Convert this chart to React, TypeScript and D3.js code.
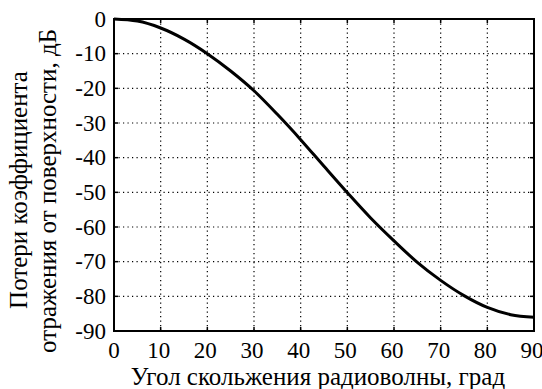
import * as d3 from "d3";

// grazing angle, degrees
const angles = [0, 5, 10, 15, 20, 25, 30, 35, 40, 45, 50, 55, 60, 65, 70, 75, 80, 85, 90];
// reflection coefficient loss, dB
const lossDb = [0, -0.6, -2.6, -5.8, -10, -15, -20.7, -27.5, -34.8, -42.5, -50.1, -57.4, -64, -70.2, -75.4, -79.8, -83.2, -85.3, -86];

const xTicks = [0, 10, 20, 30, 40, 50, 60, 70, 80, 90];
const yTicks = [0, -10, -20, -30, -40, -50, -60, -70, -80, -90];

const xTitle = "Угол скольжения радиоволны, град";
const yTitle1 = "Потери коэффициента";
const yTitle2 = "отражения от поверхности, дБ";

const W = 542;
const H = 389;
const margin = { top: 19, right: 8, bottom: 58, left: 114 };
const FONT = "'Liberation Serif', 'Times New Roman', serif";

export default function App() {
  const iw = W - margin.left - margin.right;
  const ih = H - margin.top - margin.bottom;

  const x = d3.scaleLinear().domain([0, 90]).range([0, iw]);
  const y = d3.scaleLinear().domain([-90, 0]).range([ih, 0]);

  const pts = angles.map((a, i) => [a, lossDb[i]] as [number, number]);
  const line = d3
    .line<[number, number]>()
    .x((d) => x(d[0]))
    .y((d) => y(d[1]))
    .curve(d3.curveMonotoneX);

  const tickLen = 4;
  const txt = { fontFamily: FONT, fill: "#000" };

  return (
    <svg
      width={W}
      height={H}
      style={{ position: "absolute", left: 0, top: 0, background: "#fff" }}
    >
      <g transform={`translate(${margin.left},${margin.top})`}>
        {/* grid */}
        {xTicks.slice(1, -1).map((t) => (
          <line
            key={"gx" + t}
            x1={x(t)}
            x2={x(t)}
            y1={0}
            y2={ih}
            stroke="#000"
            strokeWidth={1.2}
            strokeDasharray="1.2,3.3"
          />
        ))}
        {yTicks.slice(1, -1).map((t) => (
          <line
            key={"gy" + t}
            x1={0}
            x2={iw}
            y1={y(t)}
            y2={y(t)}
            stroke="#000"
            strokeWidth={1.2}
            strokeDasharray="1.2,3.3"
          />
        ))}

        {/* inward ticks on all sides */}
        {xTicks.map((t) => (
          <g key={"tx" + t}>
            <line x1={x(t)} x2={x(t)} y1={0} y2={tickLen} stroke="#000" strokeWidth={1.5} />
            <line x1={x(t)} x2={x(t)} y1={ih} y2={ih - tickLen} stroke="#000" strokeWidth={1.5} />
          </g>
        ))}
        {yTicks.map((t) => (
          <g key={"ty" + t}>
            <line x1={0} x2={tickLen} y1={y(t)} y2={y(t)} stroke="#000" strokeWidth={1.5} />
            <line x1={iw} x2={iw - tickLen} y1={y(t)} y2={y(t)} stroke="#000" strokeWidth={1.5} />
          </g>
        ))}

        {/* curve */}
        <path d={line(pts) || ""} fill="none" stroke="#000" strokeWidth={3} strokeLinejoin="round" />

        {/* frame */}
        <rect x={0} y={0} width={iw} height={ih} fill="none" stroke="#000" strokeWidth={2} />

        {/* tick labels */}
        {xTicks.map((t) => (
          <text
            key={"lx" + t}
            x={x(t) - (t === 0 ? 0 : 2)}
            y={ih + 27}
            textAnchor="middle"
            fontSize={23}
            style={txt}
          >
            {t}
          </text>
        ))}
        {yTicks.map((t) => (
          <text
            key={"ly" + t}
            x={-8}
            y={y(t)}
            dy="0.34em"
            textAnchor="end"
            fontSize={23}
            style={txt}
          >
            {t === 0 ? "0" : "-" + Math.abs(t)}
          </text>
        ))}
      </g>

      {/* axis titles */}
      <text x={318} y={385} textAnchor="middle" fontSize={25} style={txt}>
        {xTitle}
      </text>
      <text
        transform="translate(27,190) rotate(-90)"
        textAnchor="middle"
        fontSize={25}
        style={txt}
      >
        {yTitle1}
      </text>
      <text
        transform="translate(56,191) rotate(-90)"
        textAnchor="middle"
        fontSize={25}
        style={txt}
      >
        {yTitle2}
      </text>
    </svg>
  );
}
